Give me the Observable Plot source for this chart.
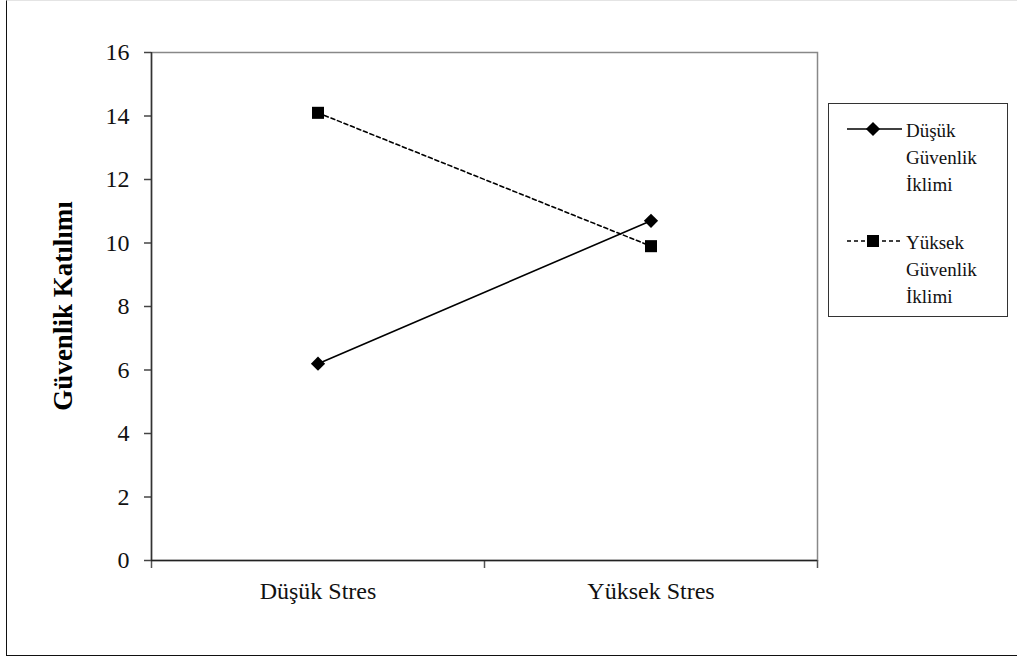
<!DOCTYPE html>
<html>
<head>
<meta charset="utf-8">
<script src="https://cdn.jsdelivr.net/npm/d3@7"></script>
<script src="https://cdn.jsdelivr.net/npm/@observablehq/plot@0.6"></script>
<style>
  html, body { margin: 0; padding: 0; background: #fff; }
  #wrap { position: relative; width: 1017px; height: 657px; overflow: hidden; font-family: "Liberation Serif", "Times New Roman", serif; }
  #frame { position: absolute; left: 6px; top: 0px; width: 1100px; height: 654px; border-left: 1.5px solid #111; border-bottom: 1.5px solid #111; border-top: 1px solid #e4e4e4; }
  #chart { position: absolute; left: 0; top: 0; }
  #legend { position: absolute; left: 828px; top: 103px; width: 180px; height: 214px; border: 1px solid #333; box-sizing: border-box; background: #fff; }
</style>
</head>
<body>
<div id="wrap">
  <div id="frame"></div>
  <div id="chart"></div>
  <div id="legend"></div>
</div>
<script>
// ---- data ----
const categories = ["Düşük Stres", "Yüksek Stres"];
const seriesNames = ["Düşük Güvenlik İklimi", "Yüksek Güvenlik İklimi"];
const legendLines = [["Düşük", "Güvenlik", "İklimi"], ["Yüksek", "Güvenlik", "İklimi"]];
const lowClimate = [6.2, 10.7];
const highClimate = [14.1, 9.9];
const yTicks = [0, 2, 4, 6, 8, 10, 12, 14, 16];
const yLabel = "Güvenlik Katılımı";

const rows = [];
categories.forEach((c, i) => {
  rows.push({series: seriesNames[0], cat: c, xi: i + 0.5, value: lowClimate[i]});
  rows.push({series: seriesNames[1], cat: c, xi: i + 0.5, value: highClimate[i]});
});
const low = rows.filter(d => d.series === seriesNames[0]);
const high = rows.filter(d => d.series === seriesNames[1]);

const FONT = "'Liberation Serif', 'Times New Roman', serif";

const plot = Plot.plot({
  width: 1017,
  height: 657,
  marginLeft: 151,
  marginRight: 200,
  marginTop: 52,
  marginBottom: 97,
  style: {fontFamily: FONT, fontSize: "24px", color: "#111", background: "transparent"},
  x: {domain: [0, categories.length], axis: null},
  y: {domain: [0, 16], axis: null},
  marks: [
    Plot.frame({stroke: "#888", strokeWidth: 1.5}),
    Plot.axisY({ticks: yTicks, tickSize: 7, tickPadding: 15, fontSize: 24, label: null, stroke: "#444", strokeWidth: 1.5}),
    Plot.axisX({ticks: d3.range(categories.length + 1), tickSize: 8, tickFormat: () => "", label: null, stroke: "#555", strokeWidth: 1.5}),
    Plot.axisX({ticks: categories.map((c, i) => i + 0.5), tickSize: 0, tickPadding: 21, tickFormat: t => categories[Math.floor(t)], fontSize: 24, label: null}),
    Plot.ruleX([0], {stroke: "#333", strokeWidth: 1.5}),
    Plot.ruleY([0], {stroke: "#222", strokeWidth: 1.5}),
    Plot.line(low, {x: "xi", y: "value", stroke: "#000", strokeWidth: 1.6}),
    Plot.line(high, {x: "xi", y: "value", stroke: "#000", strokeWidth: 1.6, strokeDasharray: "4,3"}),
    Plot.dot(low, {x: "xi", y: "value", symbol: "diamond2", r: 6.4, fill: "#000", stroke: "none"}),
    Plot.dot(high, {x: "xi", y: "value", symbol: "square", r: 6.8, fill: "#000", stroke: "none"})
  ]
});
document.getElementById("chart").appendChild(plot);

// y axis title
const svg = d3.select(plot);
svg.append("text")
  .attr("transform", `translate(72, ${52 + (560 - 52) / 2}) rotate(-90)`)
  .attr("text-anchor", "middle")
  .attr("font-family", FONT)
  .attr("font-weight", "bold")
  .attr("font-size", 27)
  .attr("fill", "#000")
  .text(yLabel);

// legend
const lg = d3.select("#legend").append("svg").attr("width", 180).attr("height", 214);
const entries = [
  {lines: legendLines[0], dash: null, sym: d3.symbolDiamond2, size: 128},
  {lines: legendLines[1], dash: "4,3", sym: d3.symbolSquare, size: 144}
];
entries.forEach((e, k) => {
  const y0 = 25 + k * 112;
  const g = lg.append("g").attr("transform", `translate(0, ${y0})`);
  g.append("line").attr("x1", 18).attr("x2", 73).attr("y1", 0).attr("y2", 0)
    .attr("stroke", "#000").attr("stroke-width", 1.6).attr("stroke-dasharray", e.dash);
  g.append("path").attr("transform", "translate(44,0)").attr("d", d3.symbol(e.sym, e.size)()).attr("fill", "#000");
  e.lines.forEach((t, j) => {
    g.append("text").attr("x", 77).attr("y", 8 + j * 27)
      .attr("font-family", FONT).attr("font-size", 19).attr("fill", "#111").text(t);
  });
});
</script>
</body>
</html>
